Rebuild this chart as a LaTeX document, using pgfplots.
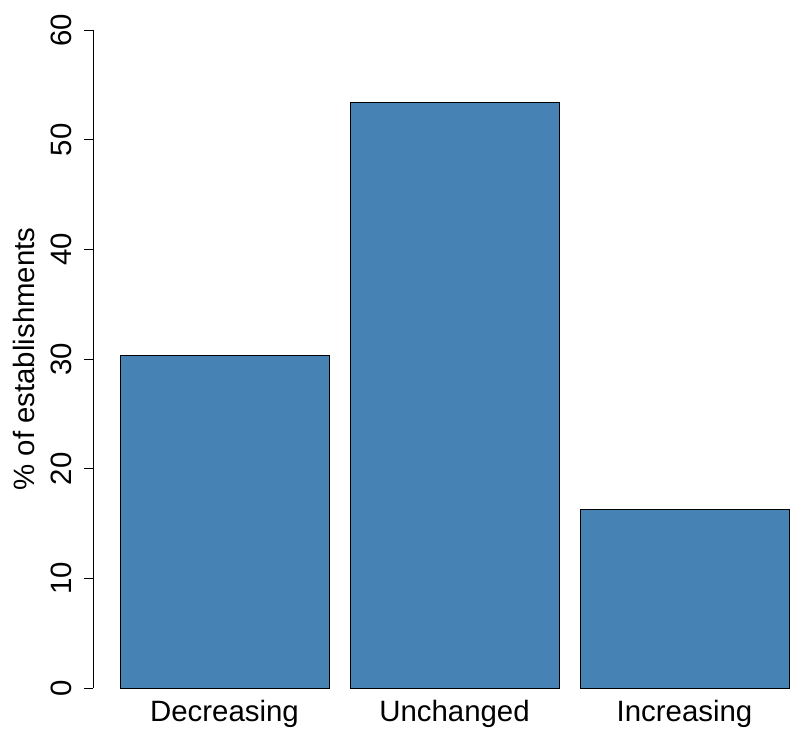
\documentclass[border=0pt]{standalone}
\usepackage{fontspec}
\setmainfont{Liberation Sans}
\usepackage{pgfplots}
\pgfplotsset{compat=1.18}
\definecolor{steelblue}{RGB}{70,130,180}
\begin{document}
\begin{tikzpicture}
\useasboundingbox (-46.5pt,-23.5pt) rectangle (351pt,344pt);
\begin{axis}[
  at={(0,0)}, anchor=south west,
  scale only axis,
  width=351pt, height=329pt,
  xmin=-0.57174, xmax=2.48043,
  ymin=0, ymax=60,
  axis x line*=bottom, axis y line*=left,
  x axis line style={draw=none},
  y axis line style={-, line width=0.5pt, black},
  xtick={0,1,2},
  xticklabels={Decreasing,Unchanged,Increasing},
  xtick style={draw=none},
  ytick={0,10,20,30,40,50,60},
  ytick style={line width=0.5pt, black},
  tick align=outside,
  major tick length=4.5pt,
  /pgf/number format/assume math mode=true,
  tick label style={font=\fontsize{14.7pt}{17pt}\selectfont, text=black},
  yticklabel style={rotate=90, anchor=south, inner sep=0pt},
  yticklabel shift=6pt,
  xticklabel style={anchor=base, inner sep=0pt},
  xticklabel shift=12pt,
  ylabel={\% of establishments},
  every axis y label/.style={at={(axis description cs:0,0.5)}, xshift=-29pt, rotate=90, anchor=base, inner sep=0pt, font=\fontsize{14.7pt}{17pt}\selectfont},
  ybar, bar width=0.9087,
]
\addplot[fill=steelblue, draw=black, line width=0.5pt] coordinates {(0,30.3) (1,53.4) (2,16.3)};
\end{axis}
\end{tikzpicture}
\end{document}
